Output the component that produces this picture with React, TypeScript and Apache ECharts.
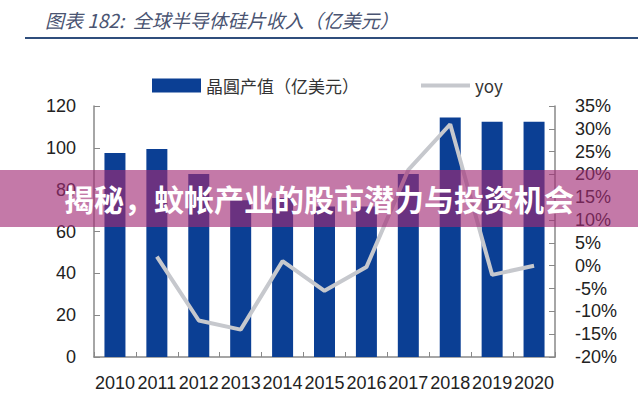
import React, { useEffect, useRef } from "react";
import * as echarts from "echarts";

const categories = ["2010", "2011", "2012", "2013", "2014", "2015", "2016", "2017", "2018", "2019", "2020"];
const waferValues = [97.5, 99.5, 87.5, 75, 76, 72, 72, 87.5, 114.5, 112.5, 112.5];
const yoyValues: (number | null)[] = [null, 2, -12, -14, 1, -5.5, -0.3, 21, 31, -2, 0];
const leftTicks = { min: 0, max: 120, interval: 20 };
const rightTicks = { min: -20, max: 35, interval: 5 };

const titleText = "图表 182:  全球半导体硅片收入（亿美元）";
const barName = "晶圓产值（亿美元）";
const lineName = "yoy";
const bannerText = "揭秘，蚊帐产业的股市潜力与投资机会";

export default function App() {
  const ref = useRef<HTMLDivElement>(null);
  useEffect(() => {
    if (!ref.current) return;
    const chart = echarts.init(ref.current, undefined, { renderer: "svg" });
    const axisFont = { fontFamily: "Liberation Sans, Arial, sans-serif", fontSize: 18, color: "#222" };
    chart.setOption({
      animation: false,
      backgroundColor: "#fff",
      title: {
        text: titleText,
        left: 40,
        top: 5,
        textStyle: {
          fontFamily: "Noto Sans CJK SC",
          fontSize: 19,
          fontStyle: "italic",
          fontWeight: "normal",
          color: "#4a5472",
        },
      },
      legend: {
        left: 152,
        top: 77,
        padding: 0,
        itemWidth: 49,
        itemHeight: 14,
        itemGap: 60,
        textStyle: { fontFamily: "Noto Sans CJK SC", fontSize: 17, color: "#333" },
        data: [
          { name: barName, icon: "rect" },
          { name: lineName, itemStyle: { opacity: 0 }, lineStyle: { width: 4, color: "#c6c8cd" } },
        ],
      },
      grid: { left: 94, right: 83, top: 106, bottom: 43 },
      xAxis: {
        type: "category",
        data: categories,
        boundaryGap: true,
        axisLine: { lineStyle: { color: "#888", width: 1.5 } },
        axisTick: { show: true, inside: true, length: 5, lineStyle: { color: "#888" } },
        axisLabel: { ...axisFont, interval: 0, margin: 17, hideOverlap: false },
      },
      yAxis: [
        {
          type: "value",
          min: leftTicks.min,
          max: leftTicks.max,
          interval: leftTicks.interval,
          splitLine: { show: false },
          axisLine: { show: true, lineStyle: { color: "#888", width: 1.5 } },
          axisTick: { show: true, inside: true, length: 6, lineStyle: { color: "#888" } },
          axisLabel: { ...axisFont, margin: 18 },
        },
        {
          type: "value",
          position: "right",
          min: rightTicks.min,
          max: rightTicks.max,
          interval: rightTicks.interval,
          splitLine: { show: false },
          axisLine: { show: true, lineStyle: { color: "#888", width: 1.5 } },
          axisTick: { show: true, inside: true, length: 6, lineStyle: { color: "#888" } },
          axisLabel: { ...axisFont, margin: 20, formatter: "{value}%" },
        },
      ],
      series: [
        {
          name: barName,
          type: "bar",
          data: waferValues,
          barWidth: 21,
          itemStyle: { color: "#0b3f94" },
        },
        {
          name: lineName,
          type: "line",
          yAxisIndex: 1,
          data: yoyValues,
          symbol: "none",
          connectNulls: false,
          lineStyle: { color: "#c6c8cd", width: 4 },
          itemStyle: { color: "#c6c8cd" },
          z: 3,
        },
      ],
      graphic: [
        {
          type: "line",
          z: 10,
          shape: { x1: 25, y1: 38, x2: 638, y2: 38 },
          style: { stroke: "#2f4e7c", lineWidth: 2 },
        },
        {
          type: "rect",
          z: 100,
          shape: { x: 0, y: 170, width: 638, height: 57 },
          style: { fill: "rgba(162,43,117,0.63)" },
        },
        {
          type: "text",
          z: 101,
          x: 319,
          y: 198,
          style: {
            text: bannerText,
            fill: "#fff",
            fontFamily: "Noto Sans CJK SC",
            fontWeight: "bold",
            fontSize: 30,
            align: "center",
            verticalAlign: "middle",
          },
        },
      ],
    });
    return () => chart.dispose();
  }, []);
  return (
    <div
      ref={ref}
      style={{ position: "fixed", left: 0, top: 0, width: 638, height: 400, background: "#fff" }}
    />
  );
}
